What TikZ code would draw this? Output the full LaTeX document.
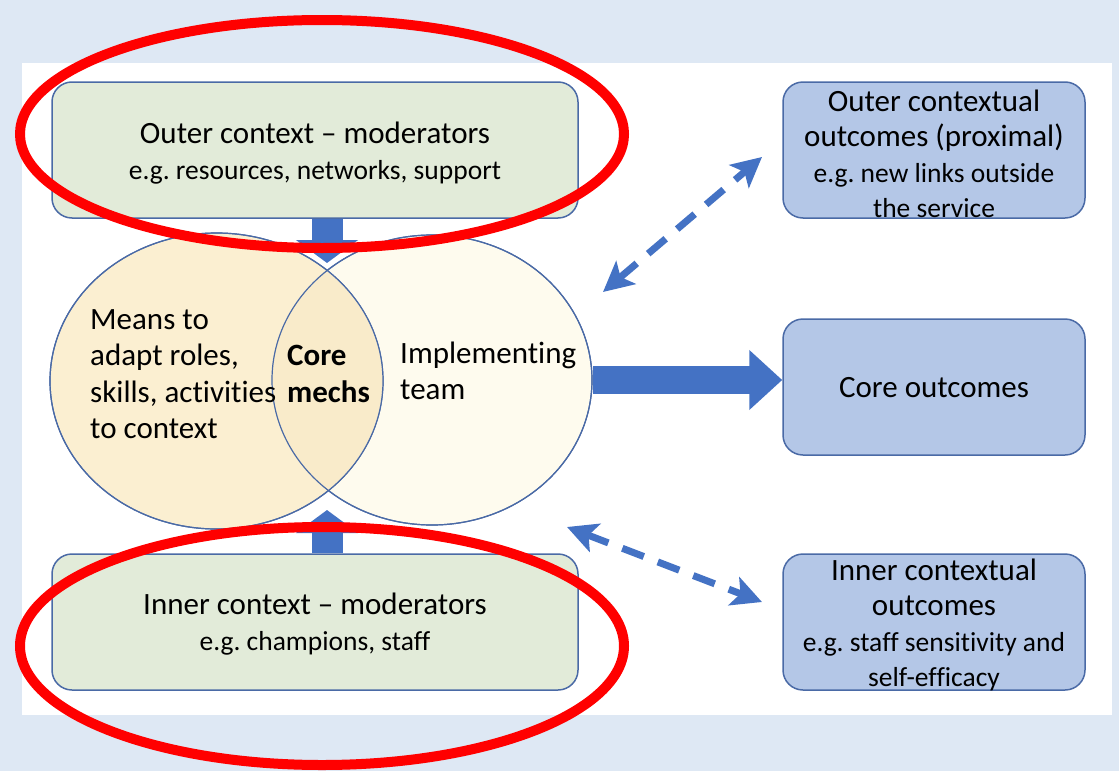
\documentclass[tikz,border=0pt]{standalone}
\usepackage{fontspec}
\setmainfont[Ligatures=NoCommon]{Carlito}
\usetikzlibrary{shapes.geometric,arrows.meta,calc}
\frenchspacing

\definecolor{pagebg}{HTML}{DEE8F4}
\definecolor{greenfill}{HTML}{E2EBD9}
\definecolor{boxline}{HTML}{4A6AA6}
\definecolor{bluefill}{HTML}{B4C7E7}
\definecolor{arrowblue}{HTML}{4472C4}
\definecolor{leftfill}{HTML}{FBEFD1}
\definecolor{rightfill}{HTML}{FEFBEE}
\definecolor{overlapfill}{HTML}{F9EBCA}
\definecolor{ringred}{HTML}{FF0000}

\newcommand\mainsz{\fontsize{31pt}{35.5pt}\selectfont}
\newcommand\notesz{\fontsize{27.5pt}{33pt}\selectfont}

\begin{document}
\begin{tikzpicture}[x=1pt,y=-1pt,
  ctxbox/.style={draw=boxline, line width=1.5pt, fill=greenfill, rounded corners=20pt,
    minimum width=526pt, minimum height=136pt, inner sep=0pt},
  outbox/.style={draw=boxline, line width=1.5pt, fill=bluefill, rounded corners=20pt,
    minimum width=302pt, minimum height=136pt, inner sep=0pt},
  boxtext/.style={align=center, inner sep=0pt, font=\mainsz},
  venn/.style={ellipse, draw=boxline, line width=1.2pt, inner sep=0pt},
  vennlabel/.style={anchor=west, align=left, inner sep=0pt, font=\fontsize{31pt}{36.5pt}\selectfont},
  blockarrow/.style={arrowblue, line width=31pt, -{Triangle[length=23pt,width=61pt]}},
  sidearrow/.style={arrowblue, line width=28pt, -{Triangle[length=33pt,width=58pt]}},
  dasharrow/.style={arrowblue, line width=7pt, dash pattern=on 23pt off 15pt,
    {Stealth[length=30pt,width=30pt,inset=7pt]}-{Stealth[length=30pt,width=30pt,inset=7pt]}},
  ring/.style={ellipse, draw=ringred, line width=10pt, inner sep=0pt}
]
% page and panel
\useasboundingbox (0,0) rectangle (1119,771);
\fill[pagebg] (0,0) rectangle (1119,771);
\fill[white] (22,63) rectangle (1112,715);

% overlapping ellipses
\node[venn, fill=rightfill, minimum width=320pt, minimum height=290pt] (rt) at (432,380) {};
\node[venn, fill=leftfill, minimum width=333pt, minimum height=296pt] (lf) at (216.5,381) {};
\begin{scope}
  \clip (lf.center) ellipse [x radius=166.5, y radius=148];
  \fill[overlapfill] (rt.center) ellipse [x radius=160, y radius=145];
\end{scope}
\draw[boxline, line width=1.2pt] (lf.center) ellipse [x radius=166.5, y radius=148];
\draw[boxline, line width=1.2pt] (rt.center) ellipse [x radius=160, y radius=145];

\node[vennlabel] (means) at (90,374) {Means to\\adapt roles,\\skills, activities\\to context};
\node[vennlabel, font=\fontsize{31pt}{36.5pt}\selectfont\bfseries] (core) at (287,374) {Core\\mechs};
\node[vennlabel] (team) at (400,371) {Implementing\\team};

% context boxes
\node[ctxbox] (outer) at (315,150) {};
\node[boxtext] (outertxt) at ([yshift=-3pt]outer.center) {Outer context -- moderators\\\notesz e.g. resources, networks, support};
\node[ctxbox] (inner) at (315,622) {};
\node[boxtext] (innertxt) at ([yshift=-2pt]inner.center) {Inner context -- moderators\\\notesz e.g. champions, staff};

% outcome boxes
\node[outbox] (outerout) at (934,150) {};
\node[boxtext] (outerouttxt) at ([yshift=-4pt]outerout.center) {Outer contextual\\outcomes (proximal)\\\notesz e.g. new links outside\\\notesz the service};
\node[outbox] (coreout) at (934,387) {};
\node[boxtext] (coreouttxt) at ([yshift=-1pt]coreout.center) {Core outcomes};
\node[outbox] (innerout) at (934,622) {};
\node[boxtext] (innerouttxt) at ([yshift=-3pt]innerout.center) {Inner contextual\\outcomes\\\notesz e.g. staff sensitivity and\\\notesz self-efficacy};

% block arrows
\coordinate (downtip) at (327,263);
\coordinate (uptip) at (327,510);
\draw[blockarrow] (outer.south -| downtip) -- (downtip);
\draw[blockarrow] (inner.north -| uptip) -- (uptip);
\draw[sidearrow] (rt.east) -- (rt.east -| coreout.west);

% dashed two-way arrows
\coordinate (a1) at (603,292);
\coordinate (b1) at (762,157);
\coordinate (a2) at (567,527);
\coordinate (b2) at (762,602);
\draw[dasharrow] (a1) -- (b1);
\draw[dasharrow] (a2) -- (b2);

% highlight rings
\node[ring, minimum width=604pt, minimum height=228pt] (ringtop) at (322,134) {};
\node[ring, minimum width=604pt, minimum height=238pt] (ringbot) at (322,646) {};
\end{tikzpicture}
\end{document}
